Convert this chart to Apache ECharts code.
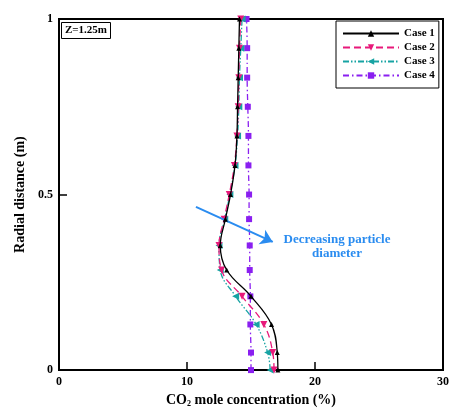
<!DOCTYPE html>
<html>
<head>
<meta charset="utf-8">
<script src="https://cdn.jsdelivr.net/npm/echarts@6/dist/echarts.min.js"></script>
<style>
html, body { margin: 0; padding: 0; background: #fff; }
#main { width: 452px; height: 413px; }
</style>
</head>
<body>
<div id="main"></div>
<script>
// radial positions where the markers sit
var radial = [0, 0.05, 0.13, 0.21, 0.285, 0.355, 0.43, 0.5, 0.583, 0.667, 0.75, 0.833, 0.917, 1];

var case1 = [17.1, 17.05, 16.6, 15.0, 13.1, 12.6, 13.0, 13.4, 13.75, 13.9, 13.95, 14.0, 14.05, 14.1];
var case2 = [16.8, 16.7, 16.0, 14.3, 12.7, 12.5, 12.9, 13.3, 13.7, 13.9, 14.0, 14.05, 14.1, 14.2];
var case3 = [16.5, 16.3, 15.4, 13.8, 12.6, 12.5, 12.95, 13.35, 13.75, 13.95, 14.05, 14.1, 14.2, 14.3];
var case4 = [15.0, 15.0, 14.95, 14.95, 14.9, 14.9, 14.85, 14.85, 14.8, 14.8, 14.75, 14.7, 14.7, 14.65];

var xTicks = [0, 10, 20, 30];
var yTicks = [0, 0.5, 1];

function pairs(xs) {
    var out = [];
    for (var i = 0; i < xs.length; i++) {
        out.push([xs[i], radial[i]]);
    }
    return out;
}

var font = 'Liberation Serif';

var myChart = echarts.init(document.getElementById('main'));
var option = {
    animation: false,
    backgroundColor: '#fff',
    textStyle: { fontFamily: font },
    title: {
        text: 'Z=1.25m',
        left: 61,
        top: 22,
        padding: [3, 4],
        borderColor: '#000',
        borderWidth: 1,
        textStyle: { fontFamily: font, fontSize: 11, fontWeight: 'bold', color: '#000' }
    },
    legend: {
        orient: 'vertical',
        left: 336,
        top: 21,
        padding: [7, 4, 7, 6],
        itemGap: 3,
        itemWidth: 56,
        itemHeight: 8,
        borderColor: '#000',
        borderWidth: 1,
        backgroundColor: '#fff',
        textStyle: { fontFamily: font, fontSize: 11, fontWeight: 'bold', color: '#000' },
        data: ['Case 1', 'Case 2', 'Case 3', 'Case 4']
    },
    grid: {
        left: 59,
        right: 6,
        top: 19,
        bottom: 41,
        show: true,
        borderColor: '#000',
        borderWidth: 2
    },
    xAxis: {
        type: 'value',
        min: 0,
        max: 30,
        interval: 10,
        name: 'CO{sub|2} mole concentration (%)',
        nameLocation: 'middle',
        nameGap: 20,
        nameTextStyle: {
            fontFamily: font, fontSize: 14, fontWeight: 'bold', color: '#000',
            rich: { sub: { fontFamily: font, fontSize: 8, fontWeight: 'bold', verticalAlign: 'bottom', padding: [8, 0, 0, 0] } }
        },
        axisLine: { lineStyle: { color: '#000', width: 2 } },
        axisTick: { inside: true, length: 8, lineStyle: { color: '#000', width: 1.5 } },
        axisLabel: { fontFamily: font, fontSize: 12, fontWeight: 'bold', color: '#000', margin: 6 },
        splitLine: { show: false }
    },
    yAxis: {
        type: 'value',
        min: 0,
        max: 1,
        interval: 0.5,
        name: 'Radial distance (m)',
        nameLocation: 'middle',
        nameGap: 32,
        nameTextStyle: { fontFamily: font, fontSize: 14, fontWeight: 'bold', color: '#000' },
        axisLine: { lineStyle: { color: '#000', width: 2 } },
        axisTick: { inside: true, length: 8, lineStyle: { color: '#000', width: 1.5 } },
        axisLabel: { fontFamily: font, fontSize: 12, fontWeight: 'bold', color: '#000', margin: 6 },
        splitLine: { show: false }
    },
    series: [
        {
            name: 'Case 1',
            type: 'line',
            smooth: 0.4,
            data: pairs(case1),
            symbol: 'triangle',
            symbolSize: 5,
            color: '#000',
            lineStyle: { color: '#000', width: 1.3 },
            z: 5,
            markLine: {
                silent: true,
                symbol: ['none', 'arrow'],
                symbolSize: 12,
                label: { show: false },
                lineStyle: { color: '#2a8cf0', width: 2, type: 'solid' },
                data: [[{ coord: [10.7, 0.465] }, { coord: [16.7, 0.365] }]]
            }
        },
        {
            name: 'Case 2',
            type: 'line',
            smooth: 0.4,
            data: pairs(case2),
            symbol: 'triangle',
            symbolRotate: 180,
            symbolSize: 7,
            color: '#e8197a',
            lineStyle: { color: '#e8197a', width: 1.3, type: [7, 4] },
            z: 4
        },
        {
            name: 'Case 3',
            type: 'line',
            smooth: 0.4,
            data: pairs(case3),
            symbol: 'triangle',
            symbolRotate: 90,
            symbolSize: 7,
            color: '#17a3a3',
            lineStyle: { color: '#17a3a3', width: 1.3, type: [6, 2, 1.5, 2, 1.5, 2] },
            z: 3
        },
        {
            name: 'Case 4',
            type: 'line',
            smooth: 0.4,
            data: pairs(case4),
            symbol: 'rect',
            symbolSize: 6,
            color: '#8a1ff0',
            lineStyle: { color: '#8a1ff0', width: 1.3, type: [6, 3, 1.5, 3] },
            z: 2
        }
    ],
    graphic: [
        {
            type: 'text',
            x: 337,
            y: 233,
            style: {
                text: 'Decreasing particle\ndiameter',
                align: 'center',
                textAlign: 'center',
                fill: '#2a8cf0',
                font: 'bold 13px "Liberation Serif"',
                lineHeight: 14
            }
        }
    ]
};
myChart.setOption(option);
</script>
</body>
</html>
